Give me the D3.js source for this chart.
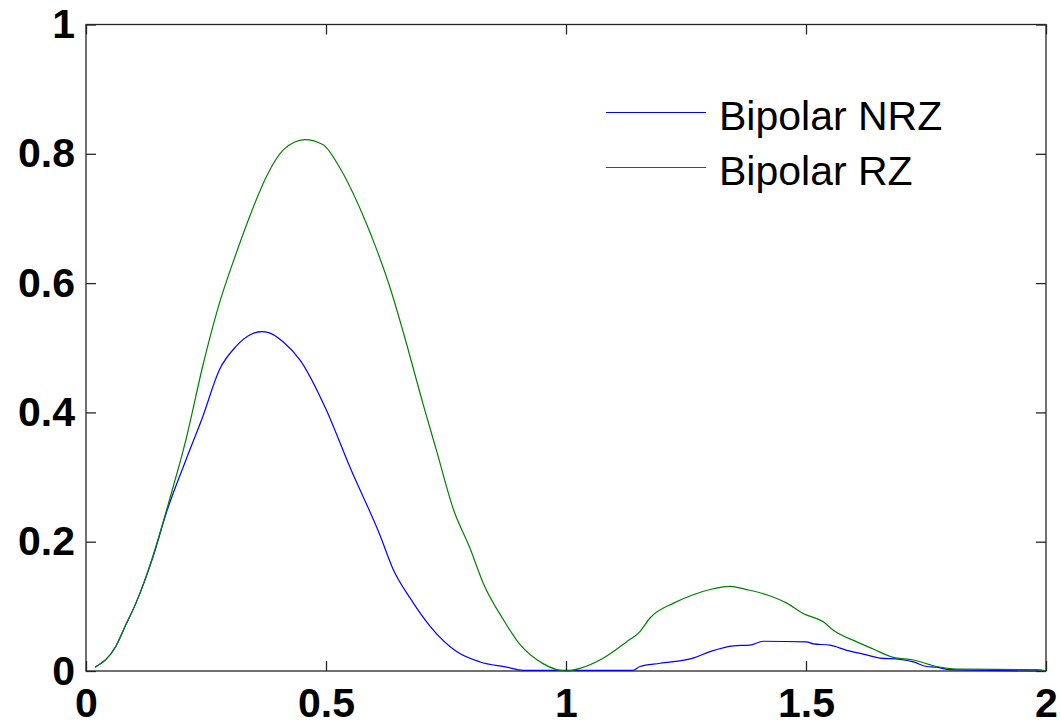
<!DOCTYPE html>
<html>
<head>
<meta charset="utf-8">
<script src="https://cdn.jsdelivr.net/npm/d3@7"></script>
<style>
  body { margin: 0; background: #fff; }
</style>
</head>
<body>
<script>
const width = 1060;
const height = 722;

// frequency (x) and power spectral density (y)
const nrzX = [0.019, 0.062, 0.082, 0.104, 0.139, 0.167, 0.208, 0.243, 0.278, 0.3125, 0.342, 0.366, 0.382, 0.411, 0.446, 0.5, 0.55, 0.6125, 0.64, 0.675, 0.717, 0.772, 0.821, 0.876, 0.91, 1.14, 1.154, 1.196, 1.265, 1.3, 1.349, 1.383, 1.411, 1.501, 1.515, 1.55, 1.585, 1.626, 1.654, 1.696, 1.724, 1.751, 1.772, 1.8, 2.0];
const nrzY = [0.006, 0.038, 0.07, 0.105, 0.175, 0.244, 0.326, 0.393, 0.466, 0.502, 0.52, 0.525, 0.523, 0.509, 0.481, 0.405, 0.315, 0.21, 0.157, 0.113, 0.069, 0.03, 0.014, 0.006, 0.001, 0.001, 0.007, 0.012, 0.02, 0.03, 0.039, 0.04, 0.046, 0.045, 0.042, 0.04, 0.032, 0.025, 0.02, 0.018, 0.014, 0.007, 0.006, 0.002, 0.0];

const rzX = [0.019, 0.062, 0.082, 0.104, 0.139, 0.174, 0.208, 0.243, 0.278, 0.31, 0.342, 0.376, 0.411, 0.456, 0.494, 0.529, 0.578, 0.606, 0.633, 0.661, 0.703, 0.731, 0.765, 0.8, 0.828, 0.869, 0.904, 0.953, 1.0, 1.029, 1.078, 1.126, 1.154, 1.175, 1.224, 1.265, 1.3, 1.342, 1.376, 1.418, 1.46, 1.494, 1.536, 1.557, 1.606, 1.64, 1.682, 1.724, 1.772, 1.814, 1.98, 2.0];
const rzY = [0.006, 0.038, 0.07, 0.105, 0.177, 0.265, 0.357, 0.471, 0.569, 0.64, 0.705, 0.765, 0.806, 0.822, 0.814, 0.778, 0.703, 0.651, 0.594, 0.524, 0.411, 0.339, 0.251, 0.19, 0.135, 0.08, 0.041, 0.011, 0.0, 0.004, 0.02, 0.045, 0.061, 0.082, 0.105, 0.118, 0.126, 0.131, 0.126, 0.118, 0.105, 0.089, 0.076, 0.063, 0.045, 0.034, 0.021, 0.017, 0.007, 0.003, 0.002, 0.0];

const xTicks = [0, 0.5, 1, 1.5, 2];
const yTicks = [0, 0.2, 0.4, 0.6, 0.8, 1];
const seriesNames = ["Bipolar NRZ", "Bipolar RZ"];
const seriesColors = ["#0000ff", "#008000"];

const margin = {left: 86, right: 14, top: 24.5, bottom: 51};

const svg = d3.select("body")
  .append("svg")
  .attr("width", width)
  .attr("height", height);

const x = d3.scaleLinear()
  .domain([0, 2])
  .range([margin.left, width - margin.right]);

const y = d3.scaleLinear()
  .domain([0, 1])
  .range([height - margin.bottom, margin.top]);

const fmt = d => d3.format("~g")(d);
const tickLen = 10;
const axisColor = "#262626";

// axes on all four sides, ticks pointing inward
const xAxisBottom = svg.append("g")
  .attr("transform", `translate(0,${y(0)})`)
  .call(d3.axisBottom(x).tickValues(xTicks).tickFormat(fmt).tickSizeInner(-tickLen).tickSizeOuter(0).tickPadding(17));

const xAxisTop = svg.append("g")
  .attr("transform", `translate(0,${y(1)})`)
  .call(d3.axisTop(x).tickValues(xTicks).tickFormat("").tickSizeInner(-tickLen).tickSizeOuter(0));

const yAxisLeft = svg.append("g")
  .attr("transform", `translate(${x(0)},0)`)
  .call(d3.axisLeft(y).tickValues(yTicks).tickFormat(fmt).tickSizeInner(-tickLen).tickSizeOuter(0).tickPadding(11));

const yAxisRight = svg.append("g")
  .attr("transform", `translate(${x(2)},0)`)
  .call(d3.axisRight(y).tickValues(yTicks).tickFormat("").tickSizeInner(-tickLen).tickSizeOuter(0));

[xAxisBottom, xAxisTop, yAxisLeft, yAxisRight].forEach(g => {
  g.select(".domain").remove();
  g.selectAll("line").attr("stroke", axisColor).attr("stroke-width", 1.3);
  g.selectAll("text")
    .attr("fill", "#000")
    .style("font-family", "'Liberation Sans', Arial, sans-serif")
    .style("font-weight", "bold")
    .style("font-size", "41px");
});

xAxisBottom.selectAll("text").attr("dy", "0.71em");

// box
svg.append("rect")
  .attr("x", x(0))
  .attr("y", y(1))
  .attr("width", x(2) - x(0))
  .attr("height", y(0) - y(1))
  .attr("fill", "none")
  .attr("stroke", axisColor)
  .attr("stroke-width", 1.3);

const line = d3.line()
  .curve(d3.curveMonotoneX)
  .x(d => x(d[0]))
  .y(d => y(d[1]));

const series = [
  d3.zip(nrzX, nrzY),
  d3.zip(rzX, rzY)
];

svg.selectAll("path.series")
  .data(series)
  .enter()
  .append("path")
  .attr("class", "series")
  .attr("fill", "none")
  .attr("stroke", (d, i) => seriesColors[i])
  .attr("stroke-width", 1.2)
  .attr("d", line);

// legend, no box
const legend = svg.append("g");
seriesNames.forEach((name, i) => {
  const ly = 112.5 + i * 55;
  legend.append("line")
    .attr("x1", 606).attr("x2", 706)
    .attr("y1", ly).attr("y2", ly)
    .attr("stroke", seriesColors[i])
    .attr("stroke-width", 1.2);
  legend.append("text")
    .attr("x", 719)
    .attr("y", ly + 17.5)
    .text(name)
    .attr("fill", "#000")
    .style("font-family", "'Liberation Sans', Arial, sans-serif")
    .style("font-size", "41px");
});
</script>
</body>
</html>
